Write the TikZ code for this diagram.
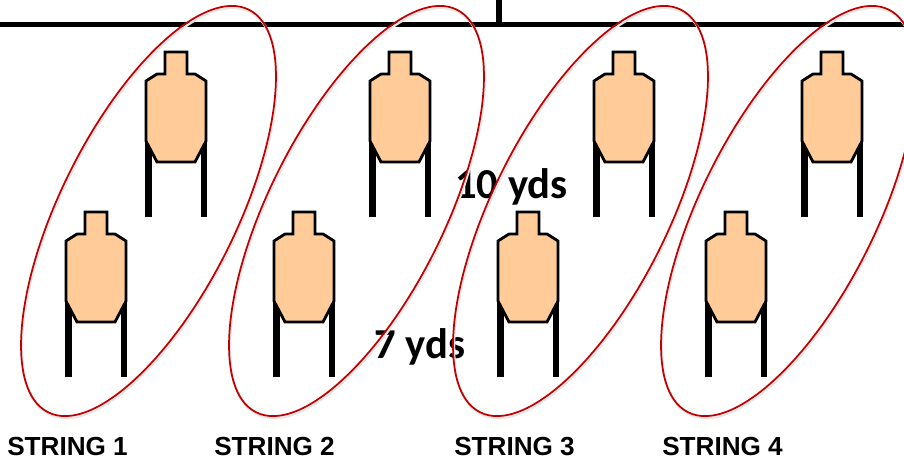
\documentclass[tikz,border=0pt]{standalone}
\usepackage{fontspec}
\setmainfont{Liberation Sans}
\newfontfamily\calfont{Carlito}
\definecolor{skin}{HTML}{FFCC99}
\definecolor{ringred}{HTML}{C00000}
\tikzset{
  x=0.75pt,y=-0.75pt,
  legline/.style={line width=4.7pt,black,line cap=butt},
  bodyline/.style={line width=2.1pt,black,fill=skin,line join=miter},
  ringline/.style={line width=1.3pt,ringred},
  ringshadow/.style={line width=1.8pt,black!9},
  railline/.style={line width=4pt,black},
  postline/.style={line width=4.5pt,black},
  stringlabel/.style={font=\bfseries\fontsize{19.6pt}{21pt}\selectfont,anchor=base west,inner sep=0pt,text=black},
  rangelabel/.style={font=\calfont\bfseries\fontsize{32pt}{35pt}\selectfont,anchor=base west,inner sep=0pt,text=black},
  pics/target/.style={code={
    \draw[legline] (-27.5,80) -- (-27.5,165);
    \draw[legline] (27.7,80) -- (27.7,165);
    \draw[bodyline] (-11,0) -- (11,0) -- (11,22) -- (19,22) -- (30,29) -- (30,89) -- (19,110) -- (-19,110) -- (-30,89) -- (-30,29) -- (-19,22) -- (-11,22) -- cycle;
  }}
}
\begin{document}
\begin{tikzpicture}
\useasboundingbox (0,0) rectangle (904,460);
\coordinate (railL) at (0,24.5);
\coordinate (railR) at (904,24.5);
\coordinate (railTop) at (499.3,0);
\coordinate (railMid) at (499.3,24.5);
\draw[railline] (railL) -- (railR);
\draw[postline] (railTop) -- (railMid);
\foreach \px/\py in {176/52,400/52,624/52,832/52,96/212,304/212,528/212,736/212}
  \pic at (\px,\py) {target};
\node[rangelabel] (ten) at (455,199) {10 yds};
\node[rangelabel] (seven) at (374,358) {7 yds};
\node[stringlabel] (s1) at (7,455) {STRING 1};
\node[stringlabel] (s2) at (214,455) {STRING 2};
\node[stringlabel] (s3) at (454,455) {STRING 3};
\node[stringlabel] (s4) at (662,455) {STRING 4};
\clip (0,0) rectangle (904,460);
\foreach \cx in {148.5,356.5,580.5,788.5} {
  \draw[ringshadow] (\cx+1,213) ellipse [x radius=168.7pt,y radius=65.85pt,rotate=63.5];
  \draw[ringline] (\cx,211) ellipse [x radius=168.7pt,y radius=65.85pt,rotate=63.5];
}
\end{tikzpicture}
\end{document}
